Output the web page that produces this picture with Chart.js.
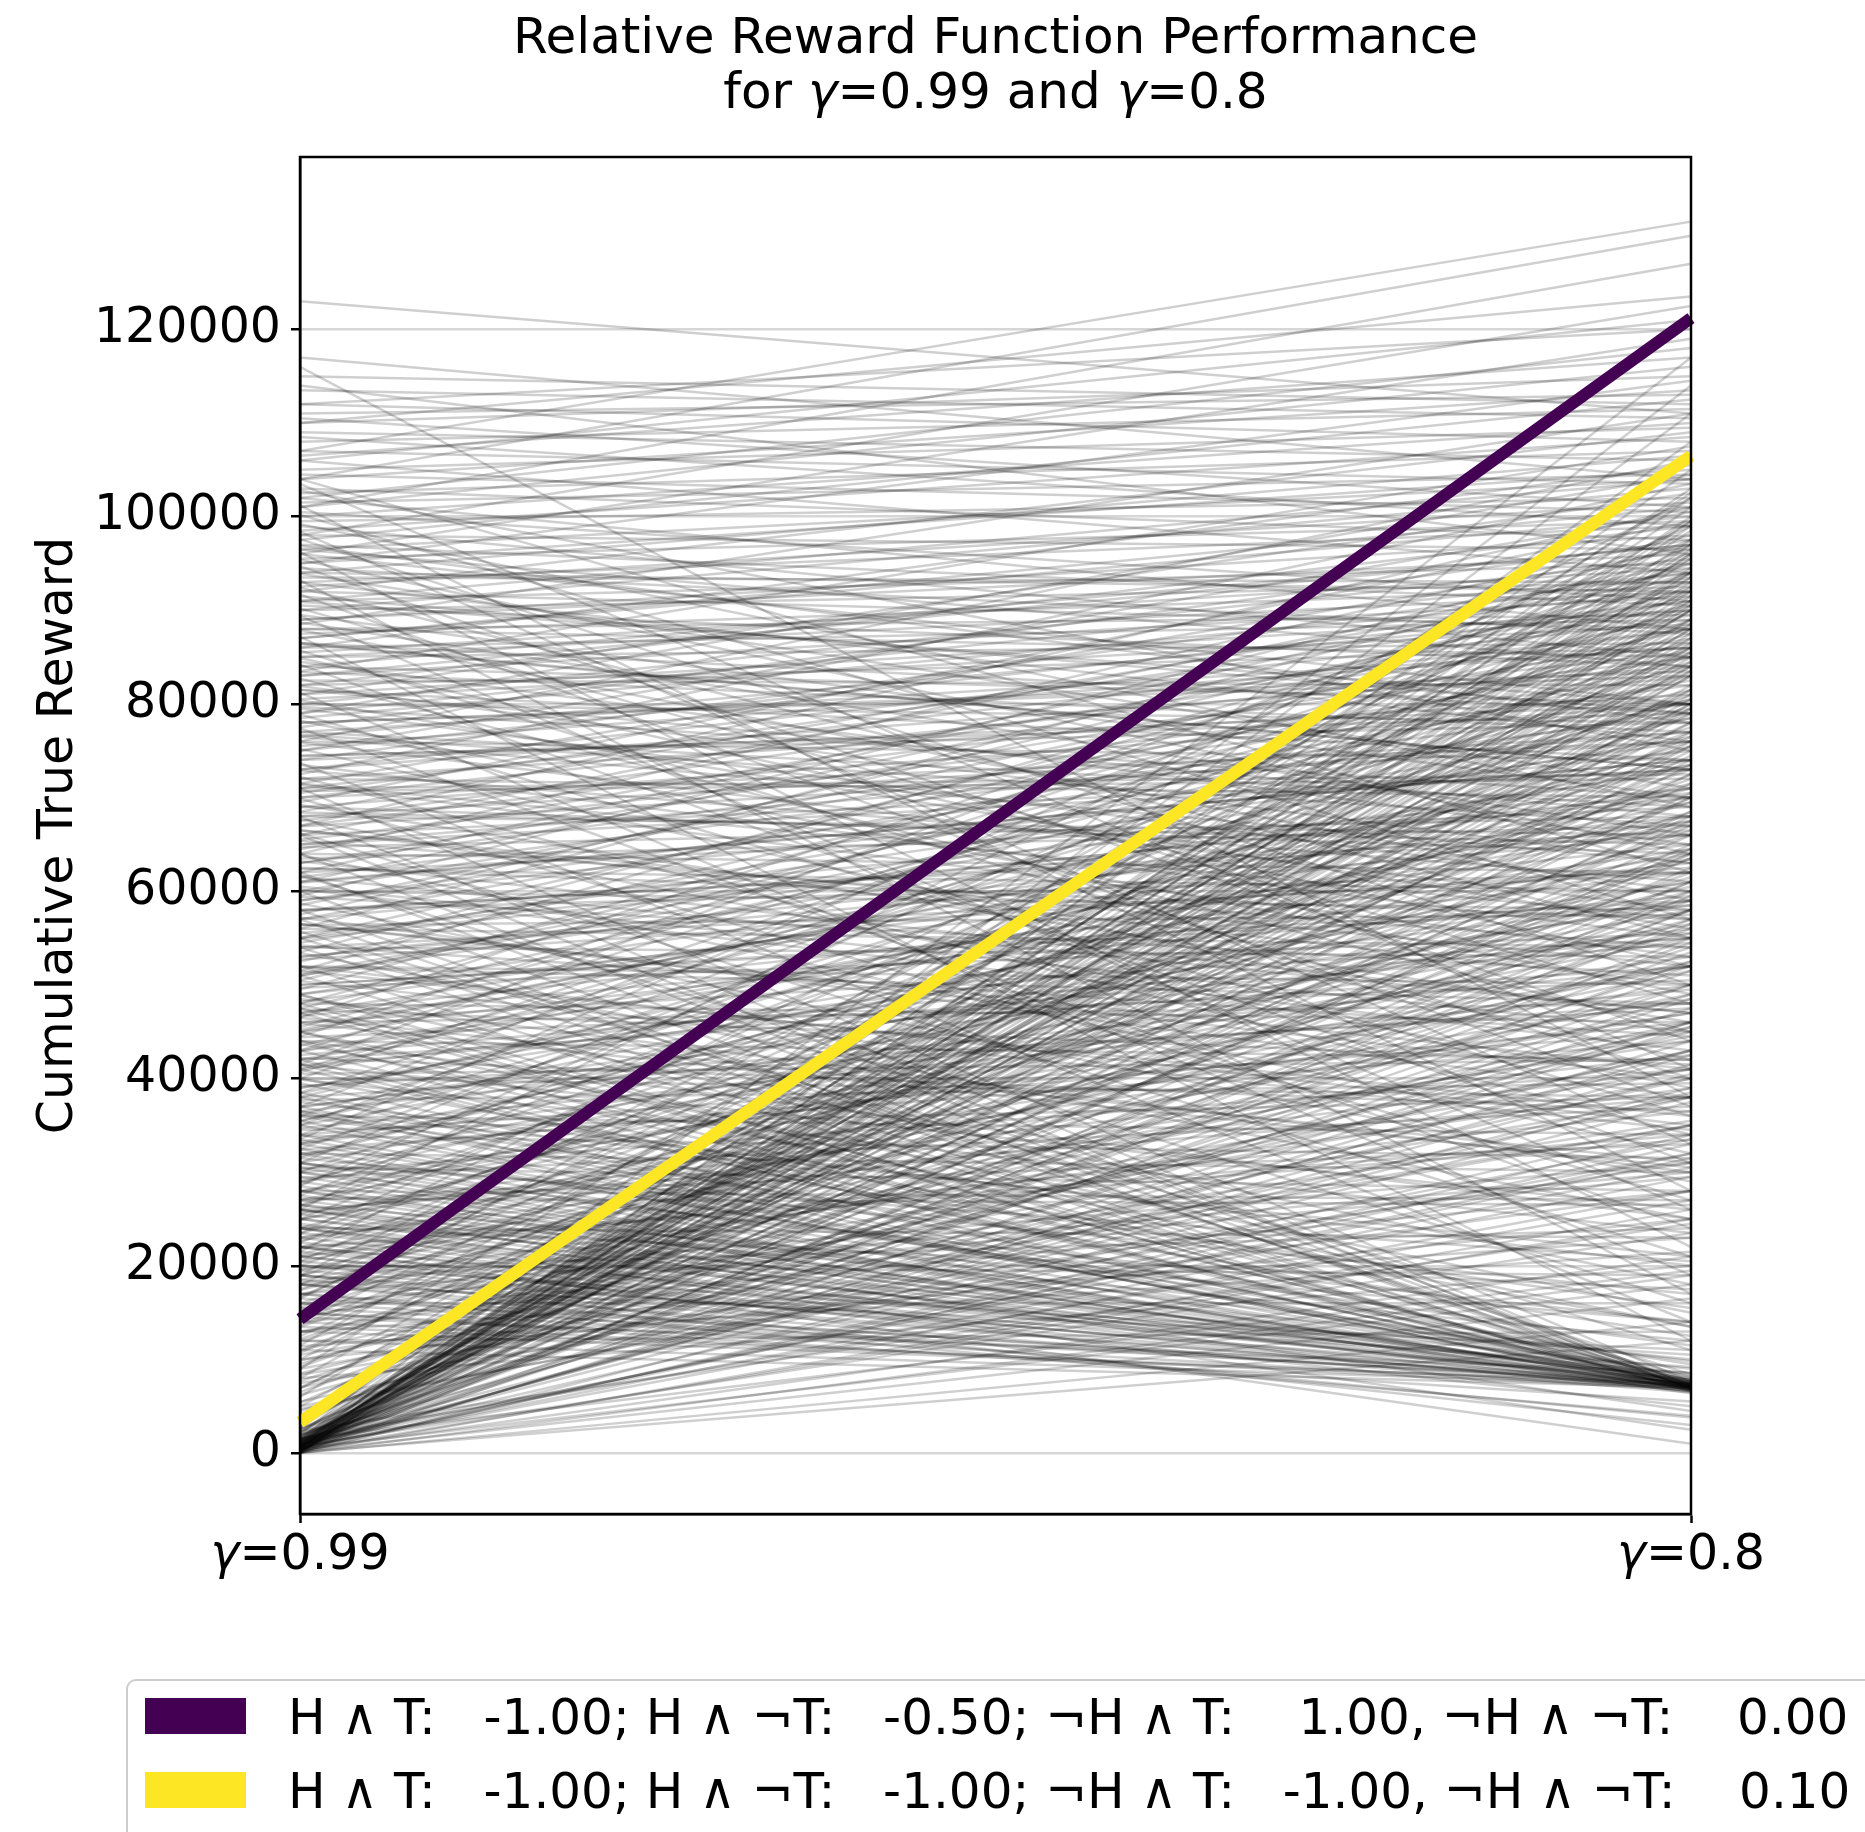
<!DOCTYPE html>
<html>
<head>
<meta charset="utf-8">
<script src="https://cdn.jsdelivr.net/npm/chart.js@4.4.0/dist/chart.umd.min.js"></script>
<style>
  html, body { margin: 0; padding: 0; background: #fff; overflow: hidden; }
  #wrap { position: relative; width: 1865px; height: 1832px; }
  #legendBox {
    position: absolute; left: 126px; top: 1679px; width: 1800px; height: 240px;
    border: 2.5px solid #cccccc; border-radius: 10px; box-sizing: border-box;
  }
  .swatch { position: absolute; left: 145px; width: 101px; height: 36px; }
  .label {
    position: absolute; left: 288px; font-family: 'DejaVu Sans'; font-size: 50px;
    line-height: 50px; white-space: pre; color: #000;
  }
</style>
</head>
<body>
<div id="wrap">
  <canvas id="chart"></canvas>
  <div id="legendBox"></div>
  <div id="legend"></div>
</div>
<script>
const axisLabels = ['γ=0.99', 'γ=0.8'];
const yTicks = [0, 20000, 40000, 60000, 80000, 100000, 120000];
const titleText = ['Relative Reward Function Performance', 'for γ=0.99 and γ=0.8'];
const yTitle = 'Cumulative True Reward';

// highlighted reward functions
const highlightLabels = [
  'H ∧ T:   -1.00; H ∧ ¬T:   -0.50; ¬H ∧ T:    1.00, ¬H ∧ ¬T:    0.00',
  'H ∧ T:   -1.00; H ∧ ¬T:   -1.00; ¬H ∧ T:   -1.00, ¬H ∧ ¬T:    0.10'
];
const highlightColors = ['#440154', '#fde725'];
const purpleRun = [14300, 121200];
const yellowRun = [3300, 106500];

// gray runs: [reward at γ=0.99, reward at γ=0.8]
const topRuns = [
  [123000, 111000], [107000, 131500], [104000, 130000], [101000, 127000], [110000, 123500],
  [98000, 122500], [106000, 121000], [112000, 120000], [96000, 119000], [102000, 118000]
];

const spreadRuns = [
  [117000, 104000], [116000, 38000], [115000, 112000], [114000, 96000], [113500, 110500], [112000, 108000],
  [111000, 113000], [110500, 101000], [110000, 115000], [109000, 106000], [108500, 99000], [108000, 111500],
  [107000, 103500], [106500, 117000], [106000, 94000], [105000, 109500], [104500, 100500], [104000, 113500],
  [103000, 97500], [102500, 107000], [102000, 88000], [101500, 104500], [101000, 116000], [100500, 91000],
  [100000, 110000], [99500, 102000], [99000, 85000], [98500, 108500], [98000, 96500], [97500, 112500],
  [97000, 90500], [96500, 104000], [96000, 80000], [95500, 99500], [95000, 114500], [94500, 87500],
  [94000, 106500], [93500, 93000], [93000, 76000], [92500, 101500], [92000, 109000], [91000, 95000],
  [90500, 84000], [90000, 103000], [89500, 70000], [89000, 98000], [88500, 111000], [88000, 89500],
  [87500, 92500], [87000, 100000], [86500, 79000], [86000, 105500], [85500, 94500], [85000, 86500],
  [84500, 65000], [84000, 97000], [83500, 107500], [83000, 91500], [82500, 82000], [82000, 99000],
  [81500, 74000], [81000, 102500], [80500, 88500], [80000, 95500], [79500, 60000], [79000, 104500],
  [78500, 92000], [78000, 83500], [77500, 97500], [77000, 69000], [76500, 90000], [76000, 106000],
  [75500, 86000], [75000, 100500], [74500, 78000], [74000, 94000], [73500, 55000], [73000, 89000],
  [72500, 103500], [72000, 81000], [71500, 96500], [71000, 72500], [70500, 91000], [70000, 85500],
  [69500, 99500], [69000, 64000], [68500, 93500], [68000, 77000], [67500, 88000], [67000, 101000],
  [66500, 50000], [66000, 95000], [65500, 83000], [65000, 73000], [64500, 90500], [64000, 98000],
  [63500, 67000], [63000, 87000], [62500, 57000], [62000, 94500], [61500, 80000], [61000, 92000],
  [60500, 45000], [60000, 85000], [59500, 97000], [59000, 75000], [58500, 89500], [58000, 62000],
  [57500, 93000], [57000, 82500], [56500, 40000], [56000, 96000], [55500, 70000], [55000, 88000],
  [54500, 79500], [54000, 53000], [53500, 91500], [53000, 66000], [52500, 86500], [52000, 35000],
  [51500, 94000], [51000, 76500], [50500, 84000], [50000, 58500], [49500, 90000], [49000, 71000],
  [48500, 30000], [48000, 87500], [47500, 81500], [47000, 63000], [46500, 95000], [46000, 48000],
  [45500, 85000], [45000, 74000], [44500, 92500], [44000, 25000], [43500, 78500], [43000, 88500],
  [42500, 55000], [42000, 68000], [41500, 97500], [41000, 83000], [40500, 42000], [40000, 90500],
  [39000, 61000], [38500, 86000], [38000, 73500], [37500, 20000], [37000, 94000], [36500, 52000],
  [36000, 80500], [35500, 67500], [35000, 89000], [34500, 38000], [34000, 77500], [33500, 99000],
  [33000, 59000], [32500, 84500], [32000, 46000], [31500, 71500], [31000, 92000], [30500, 28000],
  [30000, 81000], [29000, 64500], [28500, 95500], [28000, 55500], [27500, 87000], [27000, 33000],
  [26500, 76000], [26000, 102000], [25500, 48500], [25000, 83500], [24000, 69500], [23500, 91000],
  [23000, 41000], [22500, 79000], [22000, 60000], [21500, 97000], [21000, 36500], [20500, 85500],
  [20000, 72000], [19500, 52500], [19000, 93500], [18500, 44500], [18000, 81500], [17500, 66500],
  [17000, 30000], [16500, 89000], [16000, 58000], [15500, 75500], [15000, 99500], [14500, 40000],
  [14000, 86000], [13500, 63500], [13000, 23000], [12500, 78000], [12000, 50000], [11500, 94000],
  [11000, 70000], [10500, 35000], [10000, 84000], [9500, 56000], [9000, 102500], [8500, 45000],
  [8000, 90000], [7500, 28000], [7000, 74000], [6500, 61000], [6000, 96000], [5500, 38000],
  [5000, 83000], [4500, 52000], [4000, 88000], [3500, 67000]
];

// gently sloped runs through the middle band
const midRuns = [
  [95000, 105000], [93000, 99000], [91000, 104000], [89000, 96000], [87000, 101000], [85000, 92000],
  [83000, 97000], [81000, 90000], [79000, 94000], [77000, 86000], [75000, 91000], [73000, 84000],
  [71000, 88000], [69000, 80000], [67000, 85000], [65000, 77000], [63000, 82000], [61000, 74000],
  [59000, 79000], [57000, 71000], [55000, 76000], [53000, 68000], [51000, 73000], [49000, 65000],
  [47000, 70000], [45000, 62000], [43000, 67000], [41000, 59000], [39000, 64000], [37000, 56000],
  [35000, 61000], [33000, 53000], [31000, 58000], [29000, 50000], [27000, 55000], [25000, 47000],
  [23000, 52000], [21000, 44000], [19000, 49000], [17000, 41000], [15000, 46000], [13000, 38000],
  [11000, 43000], [9000, 35000], [7000, 40000], [5000, 32000],
  [94000, 92000], [92000, 88000], [90000, 93000], [88000, 85000], [86000, 89000], [84000, 80000],
  [82000, 86000], [80000, 78000], [78000, 83000], [76000, 74000], [74000, 80000], [72000, 70000],
  [70000, 76000], [68000, 66000], [66000, 73000], [64000, 62000], [62000, 69000], [60000, 58000],
  [58000, 66000], [56000, 54000], [54000, 62000], [52000, 50000], [50000, 59000], [48000, 46000],
  [46000, 55000], [44000, 42000], [42000, 52000], [40000, 38000], [38000, 48000], [36000, 34000],
  [34000, 45000], [32000, 30000], [30000, 41000], [28000, 27000], [26000, 38000], [24000, 23000],
  [22000, 34000], [20000, 19000], [18000, 31000], [16000, 16000], [14000, 28000], [12000, 13000],
  [10000, 25000], [8000, 20000],
  [96500, 84000], [91500, 79000], [86500, 73000], [81500, 68000], [76500, 63000], [71500, 57000],
  [66500, 52000], [61500, 47000], [56500, 41000], [51500, 36000], [46500, 31000], [41500, 26000],
  [36500, 21000], [31500, 17000], [26500, 14000]
];

// runs crossing the middle towards the lower half at γ=0.8
const crossRuns = [
  [104000, 62000], [103500, 41000], [102800, 75000], [101200, 28000], [100200, 57000], [99200, 69000],
  [98400, 33000], [97600, 50000], [96900, 78000], [96200, 22000], [95400, 64000], [94700, 44000],
  [93900, 71000], [93200, 17000], [92400, 55000], [91700, 37000], [90900, 80000], [90200, 48000],
  [89400, 26000], [88700, 66000], [87900, 59000], [87200, 12000], [86400, 73000], [85700, 40000],
  [84900, 52000], [84200, 31000], [83400, 77000], [82700, 45000], [81900, 63000], [81200, 19000],
  [80400, 56000], [79700, 70000], [78900, 36000], [78200, 49000], [77400, 24000], [76700, 67000],
  [75900, 58000], [75200, 42000], [74400, 79000], [73700, 14000], [72900, 61000], [72200, 34000],
  [71400, 53000], [70700, 72000], [69900, 27000], [69200, 46000], [68400, 65000], [67700, 39000],
  [66900, 76000], [66200, 21000], [65400, 54000], [64700, 68000], [63900, 32000], [63200, 47000],
  [62400, 60000], [61700, 16000], [60900, 74000], [60200, 43000], [59400, 51000], [58700, 29000],
  [57900, 66500], [57200, 38000], [56400, 57500], [55700, 11000], [54900, 70500], [54200, 44500],
  [53400, 25000], [52700, 62500], [51900, 48000], [51200, 78500], [50400, 34500], [49700, 55500],
  [48900, 18000], [48200, 67500], [47400, 41500], [46700, 59500], [45900, 30500], [45200, 73500],
  [44400, 50500], [43700, 13500], [42900, 64500], [42200, 36500], [41400, 54500], [40700, 80500],
  [39900, 23500], [39200, 47500], [38400, 69500], [37700, 39500], [36900, 58500], [36200, 15500],
  [35400, 75500], [34700, 49500], [33900, 31500], [33200, 63500], [32400, 44000], [31700, 71000],
  [30900, 20500], [30200, 56500], [29400, 37000], [28700, 77000], [27900, 52000], [27200, 26500],
  [26400, 66000], [25700, 42500], [24900, 60500], [24200, 17500], [23400, 73000], [22700, 47000],
  [21900, 33500], [21200, 61500], [20400, 51500], [19700, 24000], [18900, 68500], [18200, 39000],
  [17400, 57000], [16700, 79500], [15900, 29500], [15200, 64000], [14400, 45500], [13700, 72500],
  [12900, 35500], [12200, 59000], [11400, 21500], [10700, 76500], [9900, 43000], [9200, 62000],
  [8400, 31000], [7700, 54000], [6900, 80000], [6200, 46000], [5400, 68000], [4700, 33500],
  [3900, 58000], [3200, 75000], [2600, 49000], [1900, 64000]
];

// runs that start near zero at γ=0.99
const fanRuns = [
  [0, 14000], [200, 16500], [500, 18000], [300, 21000], [800, 23500], [100, 26000], [600, 28000],
  [1200, 30500], [400, 33000], [900, 35000], [0, 37500], [1500, 39000], [700, 41500], [300, 44000],
  [1100, 46000], [500, 48500], [2000, 50000], [200, 52500], [900, 55000], [1300, 57000], [600, 59500],
  [0, 61000], [1800, 63500], [400, 65000], [1000, 67500], [700, 70000], [2500, 71500], [300, 73500],
  [1200, 76000], [800, 78000], [1600, 80000], [500, 82000], [1000, 84000], [200, 85500], [1400, 87000],
  [700, 88500], [2200, 90000], [300, 91500], [1100, 93000], [600, 94500], [1700, 96000], [900, 97500],
  [400, 99000], [1300, 101000], [2800, 103000], [500, 105000], [1000, 108000], [1500, 111000],
  [700, 114000], [2000, 117000], [100, 12000], [1500, 19500], [2400, 24500], [900, 31500],
  [1900, 42500], [1400, 53500], [300, 58000], [2600, 66000], [800, 74500], [1500, 81000],
  [100, 86500], [2300, 92500], [1200, 89000], [600, 95500], [2700, 98500], [1800, 86000],
  [400, 79000], [1100, 91000], [2100, 84500], [700, 100000],
  [0, 19000], [300, 25000], [600, 29500], [150, 34000], [900, 38500], [450, 43000], [1200, 47500],
  [50, 51500], [750, 54500], [350, 60000], [1000, 62500], [200, 68500], [650, 72500], [1300, 77000],
  [100, 80500], [850, 83000], [400, 87500], [1100, 90500], [250, 93500], [700, 96500], [1400, 99500],
  [550, 102000], [0, 106500], [950, 81500], [300, 88000], [1250, 92000], [600, 85000], [150, 97000],
  [800, 79500], [450, 90000], [1000, 94000], [200, 83500], [1500, 75500], [350, 70500], [700, 64500],
  [1200, 56500], [50, 45500], [900, 40500], [500, 32000], [1600, 27000]
];

// runs that end near 7000 at γ=0.8
const sinkRuns = [
  [12000, 7200], [14000, 6800], [15500, 7500], [17000, 7000], [18000, 6500], [19500, 7800],
  [20500, 7100], [21500, 6900], [22500, 7400], [23500, 8000], [24500, 6600], [25500, 7300],
  [26500, 7000], [27500, 7700], [28500, 6400], [29500, 7200], [31000, 7600], [32000, 6800],
  [33500, 8200], [35000, 7100], [36500, 6700], [38000, 7500], [39500, 7000], [41000, 7900],
  [43000, 6900], [45000, 7300], [47000, 7100], [49000, 6600], [52000, 7400], [55000, 8400],
  [58000, 7000], [62000, 7200], [66000, 6800], [71000, 7600], [16000, 7300], [19000, 6900],
  [23000, 7100], [27000, 7500], [30500, 6700], [34000, 7800], [37000, 7000], [42000, 7200],
  [48000, 8100], [13000, 7400], [21000, 6600], [25000, 7000], [29000, 7300],
  [20000, 10500], [26000, 12000], [33000, 9500], [40000, 13500], [18000, 11000], [45000, 15000],
  [24000, 9000], [30000, 14000],
  [11000, 7000], [13500, 7300], [15000, 6900], [16500, 7600], [18500, 7100], [20000, 6700],
  [22000, 7400], [24000, 7000], [26000, 7800], [28000, 6800], [30000, 7200], [32500, 7500],
  [35500, 6900], [38500, 7300], [41500, 7100], [44000, 7700], [47500, 6800], [51000, 7200],
  [54000, 7000], [57000, 7500], [60000, 6900], [64000, 7300], [68000, 7100], [14500, 8600],
  [19000, 9200], [25000, 10000], [31000, 11500], [36000, 12500], [22000, 8500], [28000, 9800]
];

// faint runs that finish below the sink
const lowRuns = [
  [22000, 1000], [19000, 3000], [24000, 2500], [17000, 4000], [21000, 5000], [15000, 5500],
  [26000, 4500], [18000, 3800]
];

const grayRuns = [...topRuns, ...spreadRuns, ...midRuns, ...crossRuns, ...fanRuns, ...sinkRuns, ...lowRuns];

const datasets = [
  { label: highlightLabels[0], data: purpleRun, borderColor: highlightColors[0], borderWidth: 12, order: 0 },
  { label: highlightLabels[1], data: yellowRun, borderColor: highlightColors[1], borderWidth: 12, order: 0 }
];
grayRuns.forEach((run) => {
  datasets.push({ data: run, borderColor: 'rgba(0,0,0,0.19)', borderWidth: 2.5, order: 1 });
});

const font = { family: 'DejaVu Sans', size: 49 };

// draws a string centred on cx, with γ in italic like matplotlib mathtext
function drawMixed(ctx, text, cx, baseline, size) {
  const pieces = [];
  text.split('γ').forEach((p, j) => {
    if (j > 0) pieces.push({ t: 'γ', it: true });
    if (p) pieces.push({ t: p, it: false });
  });
  let total = 0;
  pieces.forEach((pc) => {
    ctx.font = (pc.it ? 'italic ' : '') + size + 'px "DejaVu Sans"';
    pc.w = ctx.measureText(pc.t).width;
    total += pc.w;
  });
  let x = cx - total / 2;
  pieces.forEach((pc) => {
    ctx.font = (pc.it ? 'italic ' : '') + size + 'px "DejaVu Sans"';
    ctx.fillText(pc.t, x, baseline);
    x += pc.w;
  });
}

const textPlugin = {
  id: 'mathText',
  afterDraw(chart) {
    const ctx = chart.ctx;
    const area = chart.chartArea;
    const cx = (area.left + area.right) / 2;
    ctx.save();
    ctx.fillStyle = '#000';
    ctx.textBaseline = 'alphabetic';
    ctx.textAlign = 'left';
    drawMixed(ctx, titleText[0], cx, 53, 50);
    drawMixed(ctx, titleText[1], cx, 108, 50);
    const xScale = chart.scales.x;
    axisLabels.forEach((lab, i) => {
      drawMixed(ctx, lab, xScale.getPixelForTick(i), area.bottom + 55, 49);
    });
    ctx.restore();
  }
};

// top and right spines
const framePlugin = {
  id: 'frame',
  afterDatasetsDraw(chart) {
    const { ctx, chartArea } = chart;
    ctx.save();
    ctx.strokeStyle = '#000';
    ctx.lineWidth = 2.5;
    ctx.strokeRect(chartArea.left, chartArea.top, chartArea.right - chartArea.left, chartArea.bottom - chartArea.top);
    ctx.restore();
  }
};

const canvas = document.getElementById('chart');
canvas.width = 1865;
canvas.height = 1832;

new Chart(canvas, {
  type: 'line',
  data: { labels: axisLabels, datasets: datasets },
  options: {
    responsive: false,
    animation: false,
    events: [],
    layout: { padding: { left: 0, right: 174, top: 157, bottom: 0 } },
    elements: { point: { radius: 0 }, line: { tension: 0 } },
    plugins: { legend: { display: false }, tooltip: { enabled: false }, title: { display: false } },
    scales: {
      x: {
        type: 'category',
        offset: false,
        afterFit: (scale) => { scale.height = 318; },
        grid: { drawOnChartArea: false, drawTicks: true, tickLength: 9, tickColor: '#000', tickWidth: 2.5 },
        border: { display: true, color: '#000', width: 2.5 },
        ticks: { display: false, maxRotation: 0 }
      },
      y: {
        min: -6500,
        max: 138400,
        afterFit: (scale) => { scale.width = 300; },
        afterBuildTicks: (scale) => { scale.ticks = yTicks.map((v) => ({ value: v })); },
        grid: { color: '#d6d6d6', lineWidth: 2.5, tickLength: 9, tickColor: '#000', tickWidth: 2.5 },
        border: { display: true, color: '#000', width: 2.5 },
        ticks: { font: font, color: '#000', padding: 10, callback: (v) => String(v) },
        title: { display: true, text: yTitle, font: font, color: '#000', padding: { top: 30, bottom: 0 } }
      }
    }
  },
  plugins: [textPlugin, framePlugin]
});

// legend built from the highlighted datasets
const legend = document.getElementById('legend');
const rowTops = [1698, 1772];
highlightLabels.forEach((text, i) => {
  const sw = document.createElement('div');
  sw.className = 'swatch';
  sw.style.top = rowTops[i] + 'px';
  sw.style.background = highlightColors[i];
  legend.appendChild(sw);
  const lb = document.createElement('div');
  lb.className = 'label';
  lb.style.top = (rowTops[i] - 6) + 'px';
  lb.textContent = text;
  legend.appendChild(lb);
});
</script>
</body>
</html>
